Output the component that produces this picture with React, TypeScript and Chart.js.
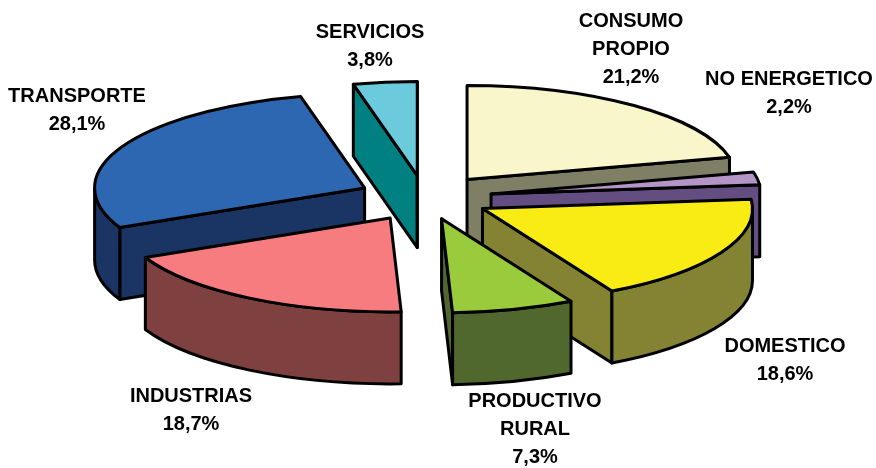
import React, { useEffect, useRef } from "react";
import { Chart, registerables } from "chart.js";

Chart.register(...registerables);

const categories = ["CONSUMO PROPIO", "NO ENERGETICO", "DOMESTICO", "PRODUCTIVO RURAL", "INDUSTRIAS", "TRANSPORTE", "SERVICIOS"];
const shares = [21.2, 2.2, 18.6, 7.3, 18.7, 28.1, 3.8];
const shareLabels = ["21,2%", "2,2%", "18,6%", "7,3%", "18,7%", "28,1%", "3,8%"];
const labelLines = [["CONSUMO", "PROPIO"], ["NO ENERGETICO"], ["DOMESTICO"], ["PRODUCTIVO", "RURAL"], ["INDUSTRIAS"], ["TRANSPORTE"], ["SERVICIOS"]];

// styling
const topColors = ["#FAF6CC", "#B595C8", "#F8EC14", "#9ACB3C", "#F67C80", "#2E67B1", "#6CCADD"];
const wallColors = ["#7F7F66", "#644D80", "#838333", "#50682D", "#7F4040", "#1A3563", "#008080"];
const explode = [68, 67, 65, 62, 67, 67, 65];
const paintOrder = [6, 5, 0, 1, 2, 4, 3];
const labelAnchors = [[631, 21], [789, 79], [785, 346], [535, 401], [191, 396], [77, 96], [370, 32]];
const lineHeight = 28;
const tilt = 0.348;
const depth = 72;

const pie3d = {
  id: "pie3d",
  beforeDatasetsDraw(chart: any) {
    const ctx: CanvasRenderingContext2D = chart.ctx;
    const arcs = chart.getDatasetMeta(0).data;
    ctx.save();
    ctx.lineJoin = "round";
    ctx.lineWidth = 3;
    ctx.strokeStyle = "#000";
    for (const i of paintOrder) {
      const el = arcs[i];
      const { x, y, startAngle: s, endAngle: e, outerRadius: r } = el.getProps(["x", "y", "startAngle", "endAngle", "outerRadius"], true);
      const mid = (s + e) / 2;
      const off = el.options.offset;
      const ax = x + Math.cos(mid) * off;
      const ay = y + Math.sin(mid) * off * tilt;
      const ry = r * tilt;
      const px = (t: number) => ax + Math.cos(t) * r;
      const py = (t: number) => ay + Math.sin(t) * ry;
      ctx.fillStyle = wallColors[i];
      const quad = (t: number) => {
        ctx.beginPath();
        ctx.moveTo(ax, ay);
        ctx.lineTo(px(t), py(t));
        ctx.lineTo(px(t), py(t) + depth);
        ctx.lineTo(ax, ay + depth);
        ctx.closePath();
        ctx.fill();
        ctx.stroke();
      };
      if (px(s) < ax) quad(s);
      if (ax < px(e)) quad(e);
      const c0 = Math.max(s, 0);
      const c1 = Math.min(e, Math.PI);
      if (c1 > c0) {
        ctx.beginPath();
        ctx.ellipse(ax, ay, r, ry, 0, c0, c1);
        ctx.lineTo(px(c1), py(c1) + depth);
        ctx.ellipse(ax, ay + depth, r, ry, 0, c1, c0, true);
        ctx.closePath();
        ctx.fill();
        ctx.stroke();
      }
      ctx.fillStyle = el.options.backgroundColor;
      ctx.beginPath();
      ctx.moveTo(ax, ay);
      ctx.ellipse(ax, ay, r, ry, 0, s, e);
      ctx.closePath();
      ctx.fill();
      ctx.stroke();
    }
    ctx.restore();
    return false;
  },
  afterDraw(chart: any) {
    const ctx: CanvasRenderingContext2D = chart.ctx;
    ctx.save();
    ctx.fillStyle = "#000";
    ctx.font = 'bold 20px "Liberation Sans", Arial, sans-serif';
    ctx.textAlign = "center";
    ctx.textBaseline = "middle";
    categories.forEach((_, i) => {
      const [lx, ly] = labelAnchors[i];
      const lines = [...labelLines[i], shareLabels[i]];
      lines.forEach((line, k) => ctx.fillText(line, lx, ly + k * lineHeight));
    });
    ctx.restore();
  },
};

export default function App() {
  const ref = useRef<HTMLCanvasElement>(null);
  useEffect(() => {
    document.body.style.margin = "0";
    const chart = new Chart(ref.current as HTMLCanvasElement, {
      type: "pie",
      data: {
        labels: categories,
        datasets: [{ data: shares, backgroundColor: topColors, offset: explode, borderColor: "#000", borderWidth: 2 }],
      },
      options: {
        animation: false,
        responsive: false,
        radius: 270,
        layout: { padding: { right: 26, bottom: 72 } },
        plugins: { legend: { display: false }, tooltip: { enabled: false } },
      } as any,
      plugins: [pie3d],
    });
    return () => chart.destroy();
  }, []);
  return <canvas ref={ref} width={876} height={468} style={{ display: "block" }} />;
}
